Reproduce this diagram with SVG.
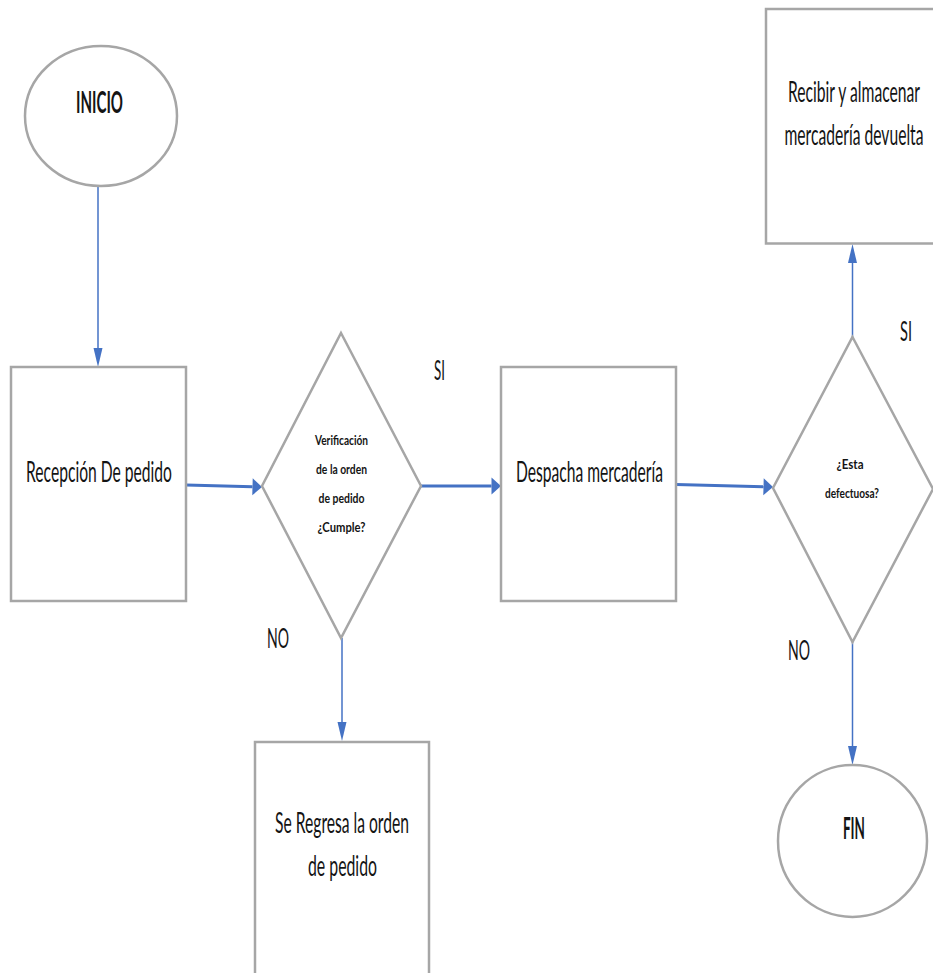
<svg xmlns="http://www.w3.org/2000/svg" width="933" height="973" viewBox="0 0 933 973">
  <style>
    .shape { fill: #ffffff; stroke: #a6a6a6; stroke-width: 2.5; }
    .lbl { font-family: Lato, "Open Sans", "Liberation Sans", sans-serif; fill: #141414; text-anchor: middle; }
    .box { font-size: 28px; }
    .dec { font-size: 14px; font-weight: bold; }
    .term { font-size: 30px; font-weight: bold; }
    .branch { font-family: Lato, "Open Sans", "Liberation Sans", sans-serif; font-size: 26px; fill: #141414; }
    .thin { fill: none; stroke: #4472c4; stroke-width: 1.5; }
    .thick { fill: none; stroke: #4472c4; stroke-width: 3; }
  </style>
  <defs>
    <marker id="headThin" markerUnits="userSpaceOnUse" markerWidth="19" markerHeight="9" refX="0" refY="4.5" orient="auto" overflow="visible">
      <path d="M0,0 L19,4.5 L0,9 Z" fill="#4472c4"/>
    </marker>
    <marker id="headThick" markerUnits="userSpaceOnUse" markerWidth="10" markerHeight="17" refX="0" refY="8.5" orient="auto" overflow="visible">
      <path d="M0,0 L9.5,8.5 L0,17 Z" fill="#4472c4"/>
    </marker>
  </defs>

  <rect width="933" height="973" fill="#ffffff"/>

  <!-- connectors -->
  <g id="connectors">
    <line class="thin" x1="98" y1="186" x2="98" y2="348" marker-end="url(#headThin)"/>
    <line class="thick" x1="186" y1="485" x2="252.5" y2="486.8" marker-end="url(#headThick)"/>
    <line class="thick" x1="421" y1="486" x2="491.5" y2="486" marker-end="url(#headThick)"/>
    <line class="thick" x1="676" y1="484.5" x2="763.5" y2="486.8" marker-end="url(#headThick)"/>
    <line class="thin" x1="342" y1="638" x2="342" y2="722" marker-end="url(#headThin)"/>
    <line class="thin" x1="852.5" y1="337" x2="852.5" y2="263" marker-end="url(#headThin)"/>
    <line class="thin" x1="852.5" y1="642" x2="852.5" y2="746" marker-end="url(#headThin)"/>
  </g>

  <!-- branch labels (condensed lettering via horizontal scale) -->
  <g id="labels">
    <text class="branch" transform="translate(434 380) scale(0.6 1)" textLength="18.3" lengthAdjust="spacingAndGlyphs">SI</text>
    <text class="branch" transform="translate(267 648) scale(0.6 1)" textLength="36.7" lengthAdjust="spacingAndGlyphs">NO</text>
    <text class="branch" transform="translate(900 341) scale(0.6 1)" textLength="20" lengthAdjust="spacingAndGlyphs">SI</text>
    <text class="branch" transform="translate(788 660) scale(0.6 1)" textLength="36.7" lengthAdjust="spacingAndGlyphs">NO</text>
  </g>

  <g id="inicio">
    <ellipse class="shape" cx="101" cy="116" rx="76" ry="70"/>
    <text class="lbl term" transform="translate(99.5 113) scale(0.6 1)" textLength="78.3" lengthAdjust="spacingAndGlyphs">INICIO</text>
  </g>

  <g id="recepcion">
    <rect class="shape" x="11" y="367" width="175" height="234"/>
    <text class="lbl box" transform="translate(99 482) scale(0.6 1)" textLength="243.3" lengthAdjust="spacingAndGlyphs">Recepción De pedido</text>
  </g>

  <g id="verificacion">
    <polygon class="shape" points="341,333 421,486 341,638 262,486"/>
    <text class="lbl dec" transform="translate(341.5 445) scale(0.6 1)" textLength="88.3" lengthAdjust="spacingAndGlyphs">Verificación</text>
    <text class="lbl dec" transform="translate(341.5 474) scale(0.6 1)" textLength="85" lengthAdjust="spacingAndGlyphs">de la orden</text>
    <text class="lbl dec" transform="translate(341.5 503) scale(0.6 1)" textLength="76.7" lengthAdjust="spacingAndGlyphs">de pedido</text>
    <text class="lbl dec" transform="translate(341.5 532) scale(0.6 1)" textLength="80" lengthAdjust="spacingAndGlyphs">¿Cumple?</text>
  </g>

  <g id="despacha">
    <rect class="shape" x="501" y="367" width="175" height="234"/>
    <text class="lbl box" transform="translate(589.5 482) scale(0.6 1)" textLength="245" lengthAdjust="spacingAndGlyphs">Despacha mercadería</text>
  </g>

  <g id="defectuosa">
    <polygon class="shape" points="852.5,337 933,489 852.5,642 773,488"/>
    <text class="lbl dec" transform="translate(850 469) scale(0.6 1)" textLength="45" lengthAdjust="spacingAndGlyphs">¿Esta</text>
    <text class="lbl dec" transform="translate(852 498) scale(0.6 1)" textLength="90" lengthAdjust="spacingAndGlyphs">defectuosa?</text>
  </g>

  <g id="recibir">
    <rect class="shape" x="766" y="9" width="190" height="234.5"/>
    <text class="lbl box" transform="translate(854 102) scale(0.6 1)" textLength="220" lengthAdjust="spacingAndGlyphs">Recibir y almacenar</text>
    <text class="lbl box" transform="translate(854 145) scale(0.6 1)" textLength="231.7" lengthAdjust="spacingAndGlyphs">mercadería devuelta</text>
  </g>

  <g id="regresa">
    <rect class="shape" x="255" y="742" width="174" height="260"/>
    <text class="lbl box" transform="translate(342 833) scale(0.6 1)" textLength="223.3" lengthAdjust="spacingAndGlyphs">Se Regresa la orden</text>
    <text class="lbl box" transform="translate(342.5 876) scale(0.6 1)" textLength="115" lengthAdjust="spacingAndGlyphs">de pedido</text>
  </g>

  <g id="fin">
    <ellipse class="shape" cx="852.5" cy="841" rx="74.5" ry="76"/>
    <text class="lbl term" transform="translate(854 839) scale(0.6 1)" textLength="36.7" lengthAdjust="spacingAndGlyphs">FIN</text>
  </g>
</svg>
